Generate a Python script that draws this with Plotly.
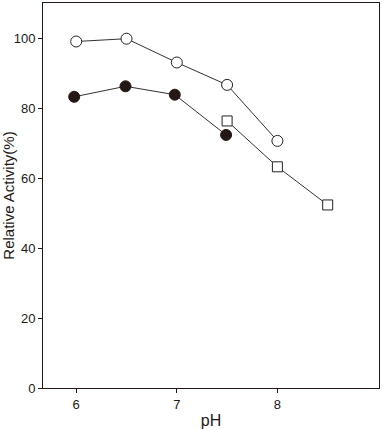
import plotly.graph_objects as go

ph_open = [6.0, 6.5, 7.0, 7.5, 8.0]
act_open = [99.0, 99.8, 93.0, 86.6, 70.6]
ph_filled = [5.98, 6.49, 6.98, 7.49]
act_filled = [83.2, 86.2, 83.8, 72.3]
ph_square = [7.5, 8.0, 8.5]
act_square = [76.3, 63.2, 52.3]

x_ticks = [6, 7, 8]
y_ticks = [0, 20, 40, 60, 80, 100]

fig = go.Figure()
line_style = dict(color="#333333", width=1)
fig.add_trace(go.Scatter(x=ph_open, y=act_open, mode="lines+markers", line=line_style,
                         marker=dict(symbol="circle", size=11, color="white",
                                     line=dict(color="#222222", width=1))))
fig.add_trace(go.Scatter(x=ph_filled, y=act_filled, mode="lines+markers", line=line_style,
                         marker=dict(symbol="circle", size=11, color="#231815",
                                     line=dict(color="#231815", width=1))))
fig.add_trace(go.Scatter(x=ph_square, y=act_square, mode="lines+markers", line=line_style,
                         marker=dict(symbol="square", size=10, color="white",
                                     line=dict(color="#222222", width=1))))

fig.update_layout(
    width=382, height=429,
    margin=dict(l=43, r=3, t=3, b=41, autoexpand=False),
    paper_bgcolor="white", plot_bgcolor="white",
    showlegend=False,
    font=dict(family="Liberation Sans, Arial, sans-serif", color="#231815"),
)
fig.update_xaxes(range=[5.67, 9.01], tickvals=x_ticks, ticktext=[str(t) for t in x_ticks],
                 ticks="outside", ticklen=4, tickwidth=1, tickcolor="#231815",
                 showline=True, linecolor="#231815", linewidth=1, mirror=True,
                 showgrid=False, zeroline=False, tickfont=dict(size=13),
                 title=dict(text="pH", font=dict(size=16), standoff=4))
fig.update_yaxes(range=[0, 110], tickvals=y_ticks, ticktext=[str(t) for t in y_ticks],
                 ticks="outside", ticklen=4, tickwidth=1, tickcolor="#231815",
                 showline=True, linecolor="#231815", linewidth=1, mirror=True,
                 showgrid=False, zeroline=False, tickfont=dict(size=13),
                 title=dict(text="Relative Activity(%)", font=dict(size=15), standoff=2))

fig.write_html("out.html", config={"displayModeBar": False},
               post_script="document.body.style.margin='0px';")
